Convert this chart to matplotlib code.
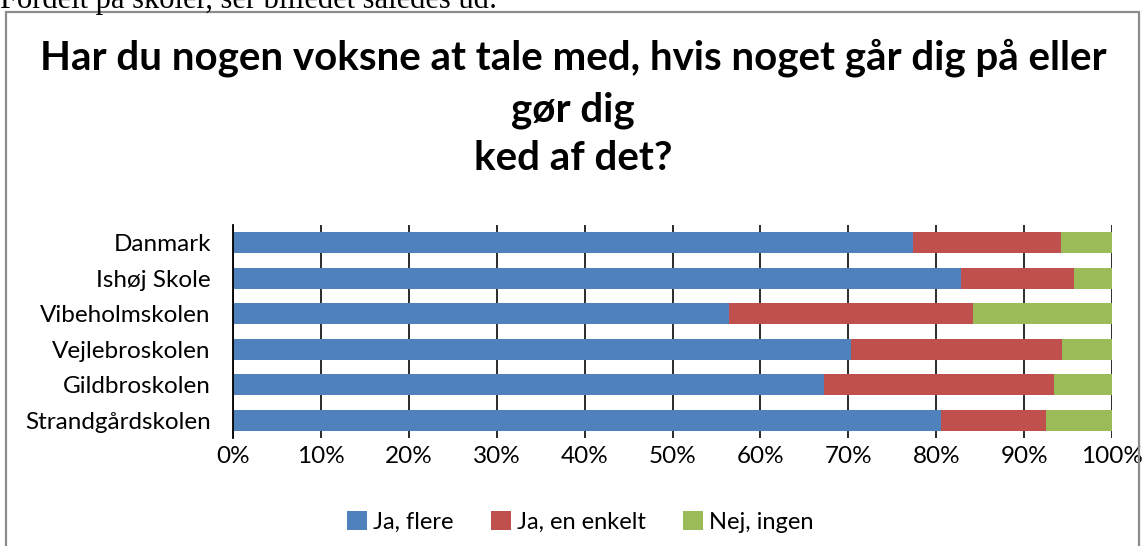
import matplotlib.pyplot as plt
from matplotlib.patches import Rectangle
from matplotlib.ticker import PercentFormatter

# data (percent)
skoler = ['Danmark', 'Ishøj Skole', 'Vibeholmskolen', 'Vejlebroskolen',
          'Gildbroskolen', 'Strandgårdskolen']
ja_flere = [77.4, 82.8, 56.4, 70.3, 67.2, 80.6]
ja_enkelt = [16.8, 12.9, 27.8, 24.0, 26.2, 11.9]
nej_ingen = [5.8, 4.3, 15.8, 5.7, 6.6, 7.5]
serier = ['Ja, flere', 'Ja, en enkelt', 'Nej, ingen']
farver = ['#4F81BD', '#C0504D', '#9BBB59']

font = ['Lato', 'DejaVu Sans']

fig = plt.figure(figsize=(11.42, 5.46), dpi=100)

# tekst over diagrammet (beskåret i toppen)
fig.text(0.0, 1.0, 'Fordelt på skoler, ser billedet således ud:',
         family='Liberation Serif', fontsize=22, ha='left', va='center')

# ramme
fig.patches.append(Rectangle((6/1142, -0.02), 1133/1142, 1.02 - 12/546,
                             transform=fig.transFigure, fill=False,
                             edgecolor='#8c8c8c', linewidth=1.6))

fig.text(0.5018, 1 - 58/546, 'Har du nogen voksne at tale med, hvis noget går dig på eller',
         family=font, fontsize=29, fontweight='bold', ha='center', va='center')
fig.text(0.5018, 1 - 110/546, 'gør dig',
         family=font, fontsize=29, fontweight='bold', ha='center', va='center')
fig.text(0.5018, 1 - 158/546, 'ked af det?',
         family=font, fontsize=29, fontweight='bold', ha='center', va='center')

ax = fig.add_axes([233/1142, 1 - 438/546, 879/1142, 213/546])

y = list(range(len(skoler)))[::-1]
left = [0] * len(skoler)
for vals, navn, farve in zip([ja_flere, ja_enkelt, nej_ingen], serier, farver):
    ax.barh(y, vals, left=left, height=0.59, color=farve, label=navn, zorder=2)
    left = [a + b for a, b in zip(left, vals)]

ax.set_xlim(0, 100)
ax.set_ylim(-0.5, len(skoler) - 0.5)
ax.set_xticks(range(0, 101, 10))
ax.xaxis.set_major_formatter(PercentFormatter(decimals=0))
ax.set_yticks(y)
ax.set_yticklabels(skoler)
ax.grid(axis='x', color='#1a1a1a', linewidth=1.3, zorder=1)
for s in ['top', 'right', 'bottom']:
    ax.spines[s].set_visible(False)
ax.spines['left'].set_color('black')
ax.spines['left'].set_linewidth(1.3)
ax.tick_params(axis='both', length=0, labelsize=17.5)
ax.tick_params(axis='x', pad=6)
ax.tick_params(axis='y', pad=16)
for lab in ax.get_xticklabels() + ax.get_yticklabels():
    lab.set_family(font)

leg = ax.legend(loc='center', bbox_to_anchor=(0.395, -0.395), ncol=3, frameon=False,
                prop={'family': font, 'size': 17}, handlelength=0.85,
                handleheight=0.85, handletextpad=0.25, columnspacing=1.6)

fig.savefig('out.png', dpi=100)
